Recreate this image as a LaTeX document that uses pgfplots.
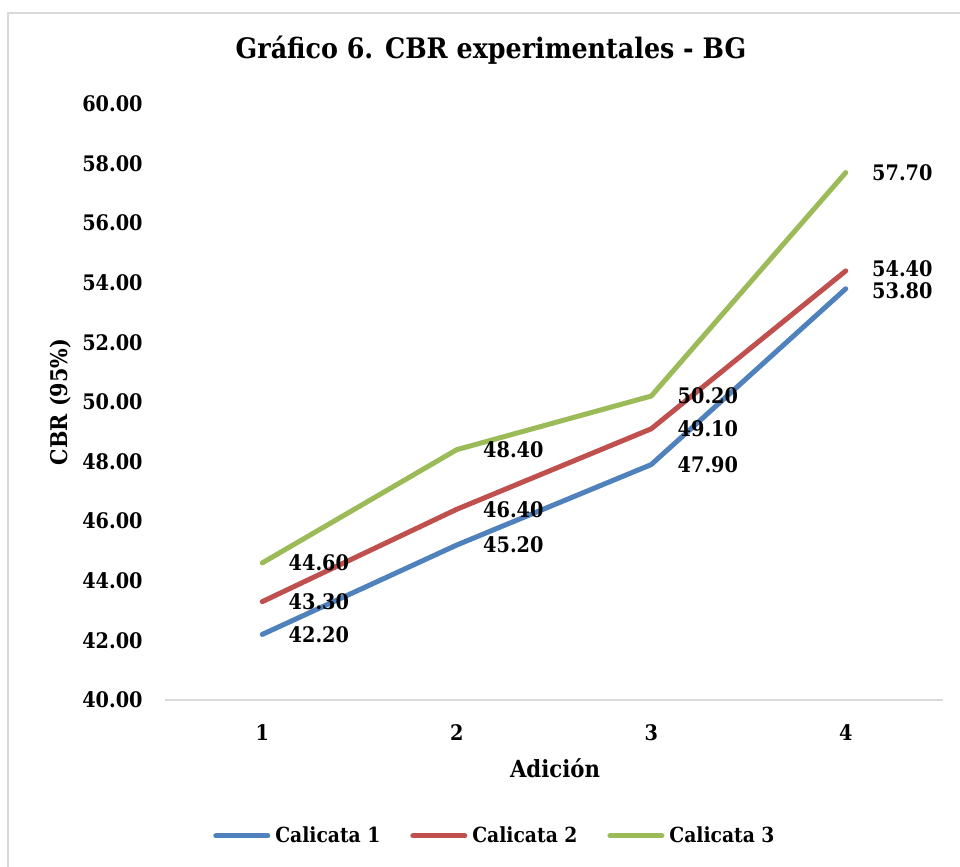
\documentclass[border=0pt]{standalone}
\usepackage{fontspec}
\setmainfont{DejaVu Serif Condensed}
\usepackage{pgfplots}
\pgfplotsset{compat=1.18}
\definecolor{c1}{HTML}{4F81BD}
\definecolor{c2}{HTML}{C0504D}
\definecolor{c3}{HTML}{9BBB59}
\definecolor{bord}{HTML}{D9D9D9}
\begin{document}
\begin{tikzpicture}
\path[use as bounding box] (0,0) rectangle (480pt,-433.5pt);
\draw[bord, line width=1pt] (4pt,-433.5pt) -- (4pt,-6.5pt) -- (480pt,-6.5pt);
\node[anchor=base, font=\fontsize{14.1}{16}\selectfont\bfseries] at (245.5pt,-29pt) {Gráfico 6. CBR experimentales - BG};
\node[rotate=90, font=\fontsize{11.5}{13}\selectfont\bfseries] at (30.5pt,-201pt) {CBR (95\%)};
\node[font=\fontsize{11.8}{13}\selectfont\bfseries] at (277.5pt,-384pt) {Adición};
\begin{axis}[
  at={(82.5pt,-350pt)}, anchor=south west,
  scale only axis, width=389pt, height=298pt,
  xmin=0.5, xmax=4.5, ymin=40, ymax=60,
  xtick={1,2,3,4}, ytick={40,42,...,60},
  axis lines*=left,
  y axis line style={draw=none},
  x axis line style={draw=bord, line width=0.75pt},
  major tick length=0,
  /pgf/number format/assume math mode=true,
  tick label style={font=\fontsize{10.7}{12}\selectfont\bfseries},
  yticklabel={\pgfmathprintnumber[fixed,zerofill,precision=2]{\tick}},
  yticklabel style={anchor=east, inner sep=0pt, xshift=-11pt},
  xticklabel style={anchor=north, inner sep=0pt, yshift=-12pt},
  clip=false,
  every axis plot/.append style={line width=2.5pt, line join=round, line cap=round},
  nodes near coords={\pgfmathprintnumber[fixed,zerofill,precision=2]{\pgfplotspointmeta}},
  every node near coord/.append style={anchor=west, inner sep=0pt, xshift=12pt, text=black, font=\fontsize{10.7}{12}\selectfont\bfseries},
  legend columns=3,
  legend style={at={(0.424,-0.228)}, anchor=center, draw=none, fill=none,
    font=\fontsize{10.4}{12}\selectfont\bfseries,
    /tikz/every odd column/.append style={column sep=1.5pt},
    /tikz/every even column/.append style={column sep=14pt},
    nodes={inner sep=1pt}},
  legend image code/.code={\draw[#1, line width=2.5pt, line cap=round] (0pt,0pt) -- (26pt,0pt);},
]
\addplot[c1, nodes near coords style={yshift={(\coordindex==3)*(-1pt)}}] coordinates {(1,42.2) (2,45.2) (3,47.9) (4,53.8)};
\addlegendentry{Calicata 1}
\addplot[c2, nodes near coords style={yshift={(\coordindex==3)*(1pt)}}] coordinates {(1,43.3) (2,46.4) (3,49.1) (4,54.4)};
\addlegendentry{Calicata 2}
\addplot[c3] coordinates {(1,44.6) (2,48.4) (3,50.2) (4,57.7)};
\addlegendentry{Calicata 3}
\end{axis}
\end{tikzpicture}
\end{document}
